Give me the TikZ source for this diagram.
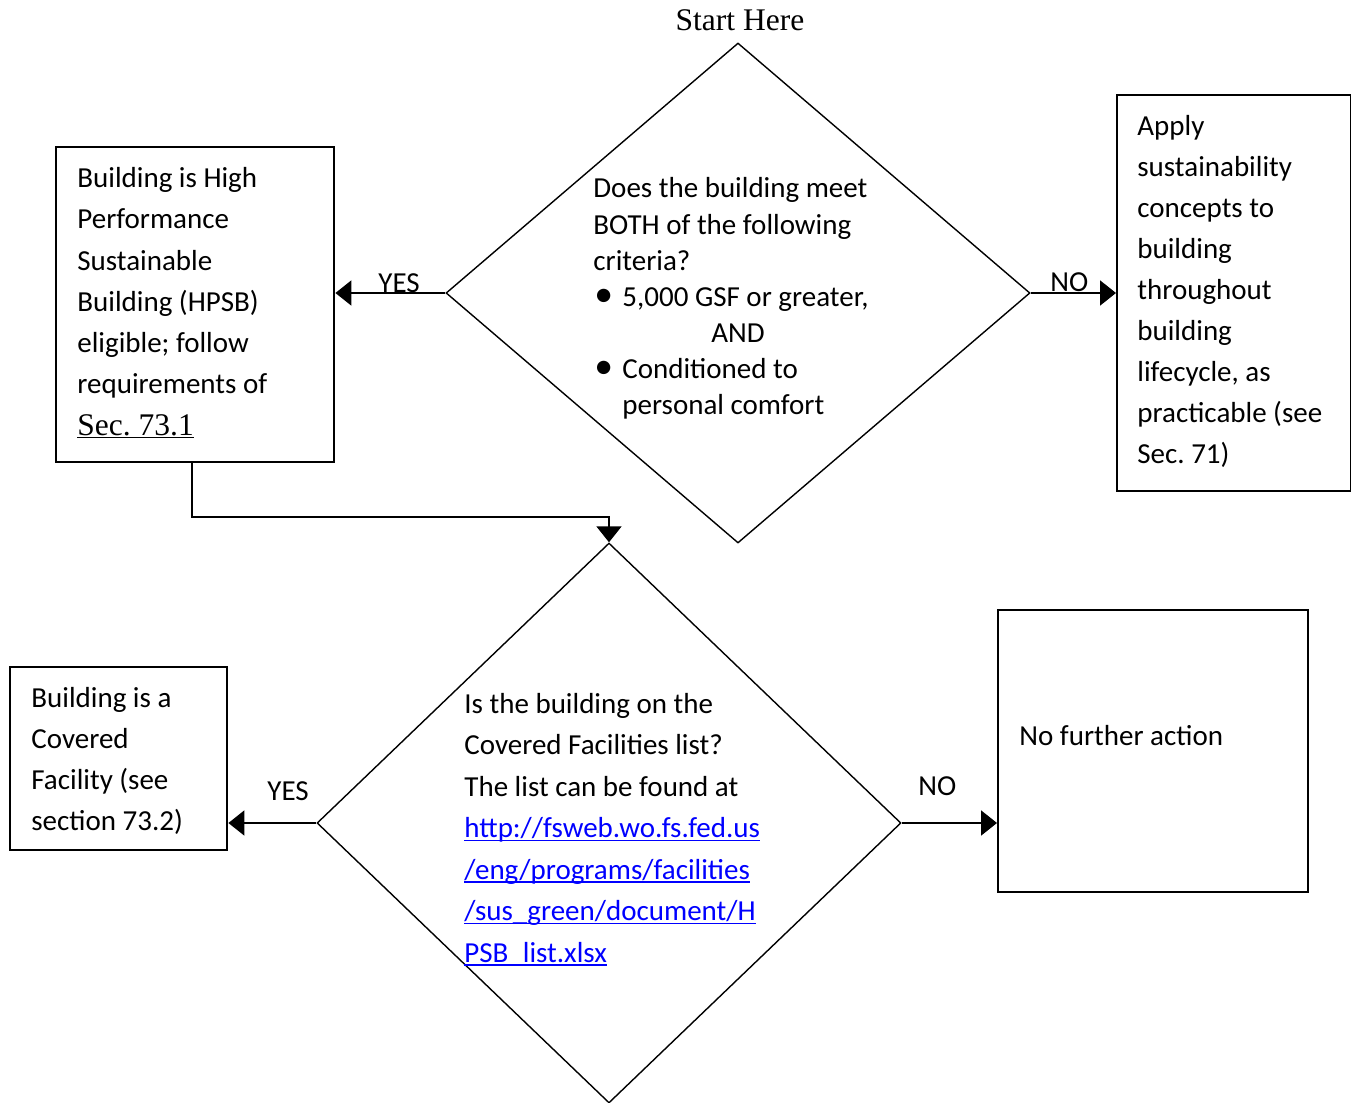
\documentclass[tikz,border=0pt]{standalone}
\usepackage{fontspec}
\setmainfont{Carlito}
\newfontfamily\tms{Liberation Serif}
\usetikzlibrary{arrows.meta,shapes.geometric}
\definecolor{linkblue}{RGB}{0,0,255}
\frenchspacing
\newcommand\fs{\rule{0pt}{12pt}}
\newcommand\myul[1]{\setbox0\hbox{#1}\rlap{\rule[-1.6pt]{\wd0}{0.8pt}}\box0}
\newcommand\lnk[1]{\textcolor{linkblue}{\myul{#1}}}
\newcommand\bul{\makebox[14.5pt][l]{\hspace{0.5pt}\scalebox{1.3}{•}}}
\begin{document}
\begin{tikzpicture}[x=0.5pt,y=-0.5pt,
  box/.style={draw, line width=1.2pt, anchor=north west, inner sep=0pt},
  dia/.style={draw, diamond, line width=0.7pt, inner sep=0pt},
  conn/.style={line width=1pt, -{Triangle[length=8pt,width=12.5pt]}},
  txt/.style={anchor=north west, inner sep=0pt, align=left},
  lbl/.style={anchor=base west, inner sep=0pt, font=\fontsize{14.5}{17}\selectfont}]
\useasboundingbox (0,0) rectangle (1351,1103);

% shapes
\node[dia, minimum width=292pt, minimum height=250pt] (d1) at (738,293) {};
\node[dia, minimum width=292pt, minimum height=280pt] (d2) at (609,823) {};
\node[box, minimum width=139pt, minimum height=157.5pt] (hpsb) at (55,146) {};
\node[box, minimum width=117pt, minimum height=198pt] (apply) at (1116,94) {};
\node[box, minimum width=108.5pt, minimum height=91.5pt] (cov) at (9,666) {};
\node[box, minimum width=155pt, minimum height=141pt] (nfa) at (997,609) {};

% texts
\node[anchor=base, inner sep=0pt, font=\tms\fontsize{15.75}{18}\selectfont] (start) at (740,31) {Start Here};

\node[txt, font=\fontsize{14.5}{20.65}\selectfont] (thpsb) at (77,163) {\fs Building is High\\Performance\\Sustainable\\Building (HPSB)\\eligible; follow\\requirements of\\{\tms\fontsize{15.75}{20.65}\selectfont\myul{Sec. 73.1}}};

\node[txt, font=\fontsize{14.5}{18.05}\selectfont] (tq1) at (593,173.5) {\fs Does the building meet\\BOTH of the following\\criteria?\\\bul 5,000 GSF or greater,\\\hspace{59pt}AND\\\bul Conditioned to\\\hspace{14.5pt}personal comfort};

\node[txt, font=\fontsize{14.5}{20.5}\selectfont] (tapply) at (1137,111) {\fs Apply\\sustainability\\concepts to\\building\\throughout\\building\\lifecycle, as\\practicable (see\\Sec. 71)};

\node[txt, font=\fontsize{14.5}{20.75}\selectfont] (tq2) at (464,689) {\fs Is the building on the\\Covered Facilities list?\\The list can be found at\\\lnk{http://fsweb.wo.fs.fed.us}\\\lnk{/eng/programs/facilities}\\\lnk{/sus\_green/document/H}\\\lnk{PSB\_list.xlsx}};

\node[txt, font=\fontsize{14.5}{20.5}\selectfont] (tcov) at (31,683) {\fs Building is a\\Covered\\Facility (see\\section 73.2)};

\node[lbl] (tnfa) at (1019,745) {No further action};

% labels
\node[lbl] (yes1) at (378,292) {YES};
\node[lbl] (no1) at (1050,291) {NO};
\node[lbl] (yes2) at (267,800) {YES};
\node[lbl] (no2) at (918,795) {NO};

% connectors
\draw[conn] (d1.west) -- (d1.west -| hpsb.east);
\draw[conn] (d1.east) -- (d1.east -| apply.west);
\draw[conn] ([xshift=-1.5pt]hpsb.south) -- ++(0,54) -| (d2.north);
\draw[conn] (d2.west) -- (d2.west -| cov.east);
\draw[conn] (d2.east) -- (d2.east -| nfa.west);
\end{tikzpicture}
\end{document}
